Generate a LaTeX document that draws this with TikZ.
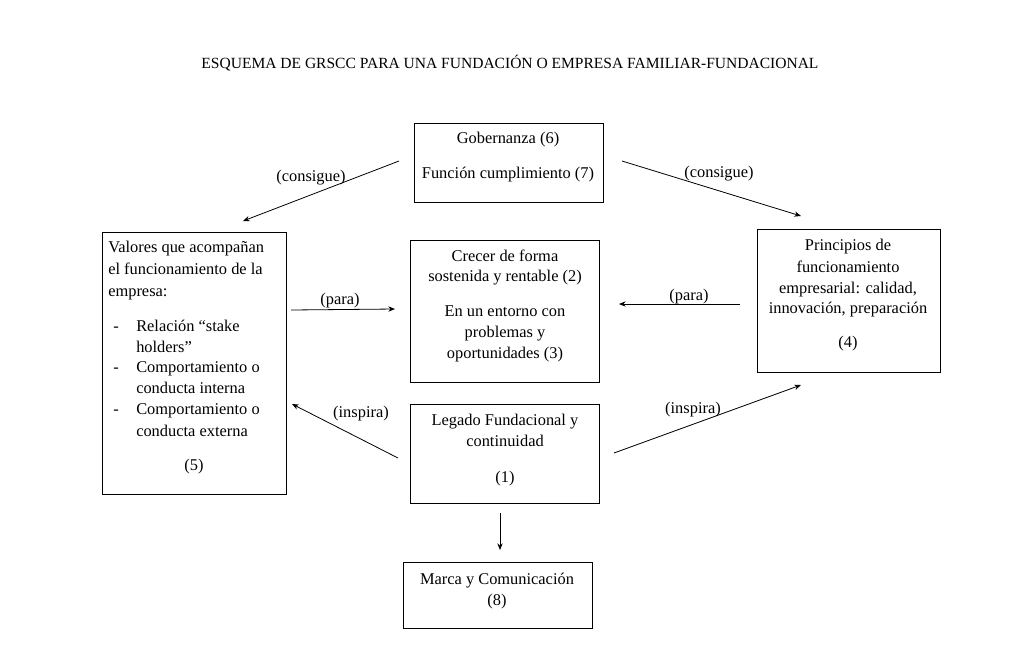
\documentclass[tikz,border=0pt]{standalone}
\usepackage{fontspec}
\setmainfont{Liberation Serif}
\usetikzlibrary{arrows.meta}
\newcommand\dfont{\fontsize{12.3}{15}\selectfont}
\newcommand\tfont{\fontsize{11.65}{13}\selectfont}
\begin{document}
\begin{tikzpicture}[x=0.75pt,y=-0.75pt,
  box/.style={draw, line width=0.8pt, inner sep=0, anchor=north west},
  txt/.style={anchor=base, inner sep=0, font=\dfont},
  ltxt/.style={anchor=base west, inner sep=0, font=\dfont},
  lbl/.style={anchor=base, inner sep=0, font=\dfont},
  arr/.style={-{Stealth[length=5pt,width=4pt]}, line width=0.6pt}]
\useasboundingbox (0,0) rectangle (1035,665);
% title
\node[anchor=base, inner sep=0, font=\tfont] (title) at (510,68) {ESQUEMA DE GRSCC PARA UNA FUNDACIÓN O EMPRESA FAMILIAR-FUNDACIONAL};
% boxes
\node[box, minimum width=141.75pt, minimum height=59.25pt] (gob) at (414,123) {};
\node[box, minimum width=138pt, minimum height=196.5pt] (val) at (102,232) {};
\node[box, minimum width=141.75pt, minimum height=106.5pt] (cre) at (410,240) {};
\node[box, minimum width=137.25pt, minimum height=107.25pt] (pri) at (757,229) {};
\node[box, minimum width=141.75pt, minimum height=74.25pt] (leg) at (410,404) {};
\node[box, minimum width=141.75pt, minimum height=49.5pt] (mar) at (403,562) {};
% Gobernanza text
\node[txt] (g1) at (508,143) {Gobernanza (6)};
\node[txt] (g2) at (508,178) {Función cumplimiento (7)};
% Valores text
\node[ltxt] (v1) at (108,252) {Valores que acompañan};
\node[ltxt] (v2) at (108,274) {el funcionamiento de la};
\node[ltxt] (v3) at (108,296) {empresa:};
\node[ltxt] (v4a) at (113,331) {-};
\node[ltxt] (v4) at (136,331) {Relación “stake};
\node[ltxt] (v5) at (136,352) {holders”};
\node[ltxt] (v6a) at (113,372) {-};
\node[ltxt] (v6) at (136,372) {Comportamiento o};
\node[ltxt] (v7) at (136,393) {conducta interna};
\node[ltxt] (v8a) at (113,414) {-};
\node[ltxt] (v8) at (136,414) {Comportamiento o};
\node[ltxt] (v9) at (136,436) {conducta externa};
\node[txt] (v10) at (194,470) {(5)};
% Crecer text
\node[txt] (c1) at (505,261) {Crecer de forma};
\node[txt] (c2) at (505,281) {sostenida y rentable (2)};
\node[txt] (c3) at (505,316) {En un entorno con};
\node[txt] (c4) at (505,337) {problemas y};
\node[txt] (c5) at (505,358) {oportunidades (3)};
% Principios text
\node[txt] (p1) at (848,250) {Principios de};
\node[txt] (p2) at (848,272) {funcionamiento};
\node[txt] (p3) at (848,293) {empresarial: calidad,};
\node[txt] (p4) at (848,313) {innovación, preparación};
\node[txt] (p5) at (848,347) {(4)};
% Legado text
\node[txt] (l1) at (505,425) {Legado Fundacional y};
\node[txt] (l2) at (505,446) {continuidad};
\node[txt] (l3) at (505,482) {(1)};
% Marca text
\node[txt] (m1) at (497,584) {Marca y Comunicación};
\node[txt] (m2) at (497,605) {(8)};
% arrow endpoints
\coordinate (a1s) at (399,161); \coordinate (a1e) at (243,221);
\coordinate (a2s) at (622,161); \coordinate (a2e) at (801,216);
\coordinate (a3s) at (291,310); \coordinate (a3e) at (395,309);
\coordinate (a4s) at (740,304); \coordinate (a4e) at (619,304);
\coordinate (a5s) at (398,458); \coordinate (a5e) at (292,404);
\coordinate (a6s) at (614,453); \coordinate (a6e) at (801,385);
\coordinate (a7s) at (500,513); \coordinate (a7e) at (500,550);
\draw[arr] (a1s) -- (a1e);
\draw[arr] (a2s) -- (a2e);
\draw[arr] (a3s) -- (a3e);
\draw[arr] (a4s) -- (a4e);
\draw[arr] (a5s) -- (a5e);
\draw[arr] (a6s) -- (a6e);
\draw[arr] (a7s) -- (a7e);
% labels
\node[lbl] (k1) at (311,181) {(consigue)};
\node[lbl] (k2) at (719,177) {(consigue)};
\node[lbl] (k3) at (340,304) {(para)};
\node[lbl] (k4) at (689,300) {(para)};
\node[lbl] (k5) at (361,417) {(inspira)};
\node[lbl] (k6) at (693,413) {(inspira)};
\end{tikzpicture}
\end{document}
